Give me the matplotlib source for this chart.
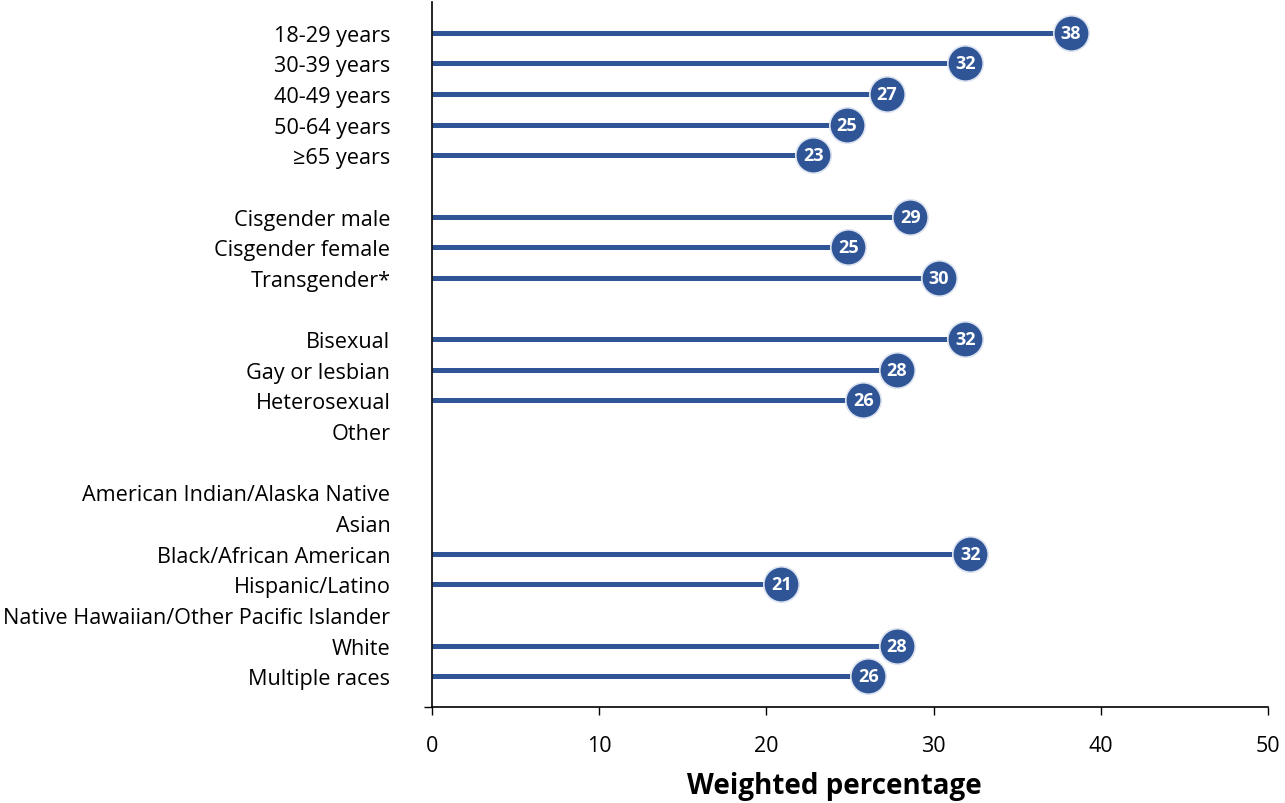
import matplotlib
matplotlib.use("Agg")
import matplotlib.pyplot as plt
import numpy as np

categories = ["18-29 years", "30-39 years", "40-49 years", "50-64 years", "\u226565 years",
              "Cisgender male", "Cisgender female", "Transgender*",
              "Bisexual", "Gay or lesbian", "Heterosexual", "Other",
              "American Indian/Alaska Native", "Asian", "Black/African American",
              "Hispanic/Latino", "Native Hawaiian/Other Pacific Islander", "White", "Multiple races"]
values = [38.2, 31.9, 27.2, 24.8, 22.8,
          28.6, 24.9, 30.3,
          31.9, 27.8, 25.8, None,
          None, None, 32.2, 20.9, None, 27.8, 26.1]
labels = ["38", "32", "27", "25", "23",
          "29", "25", "30",
          "32", "28", "26", "",
          "", "", "32", "21", "", "28", "26"]
group_sizes = [5, 3, 4, 7]
xticks = [0, 10, 20, 30, 40, 50]

plt.rcParams['font.family'] = ['Open Sans', 'DejaVu Sans']
blue = "#2F5597"

# row positions with a blank row between groups
rows = []
r = 1
for g in group_sizes:
    for i in range(g):
        rows.append(r)
        r += 1
    r += 1
rows = np.array(rows)

fig = plt.figure(figsize=(12.85, 8.04), dpi=100)
ax = fig.add_axes([432/1285, 1-708/804, (1268-432)/1285, (708-3)/804])

for y, v, lab in zip(rows, values, labels):
    if v is None:
        continue
    ax.plot([0, v], [y, y], color=blue, lw=3.6, solid_capstyle="butt", zorder=2)
    ax.scatter([v], [y], s=650, color=blue, edgecolors="#DCE3F0", linewidths=1.2, zorder=3)
    ax.text(v, y, lab, color="white", fontsize=13, fontweight="bold",
            ha="center", va="center", zorder=4)

ax.set_xlim(0, 50)
ax.set_ylim(23, 0)
ax.set_xticks(xticks)
ax.set_xticklabels([str(t) for t in xticks], fontsize=15.5)
ax.tick_params(axis="x", length=6, width=1, pad=14, direction="out", color="black")

ax.set_yticks(rows)
ax.set_yticklabels(categories, fontsize=15.6)
ax.tick_params(axis="y", which="major", length=0, pad=30)
ax.set_yticks([3, 8, 13, 18, 23], minor=True)
ax.tick_params(axis="y", which="minor", length=6, width=1, direction="out")

for s in ["top", "right"]:
    ax.spines[s].set_visible(False)
ax.spines["left"].set_linewidth(1.2)
ax.spines["bottom"].set_linewidth(1.2)

ax.set_xlabel("Weighted percentage", fontsize=20, fontweight="bold")
ax.xaxis.set_label_coords((834-432)/836, -(787-708)/705, transform=ax.transAxes)
ax.xaxis.label.set_va("center")

fig.savefig("out.png", dpi=100)
